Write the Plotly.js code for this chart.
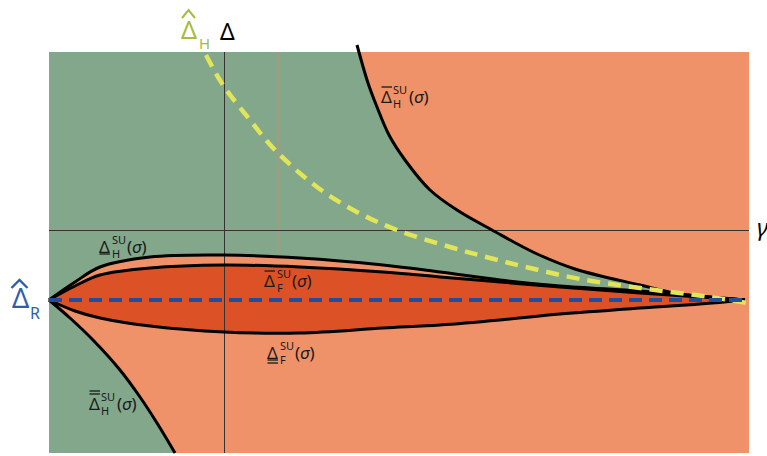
<!DOCTYPE html>
<html><head><meta charset="utf-8">
<script src="https://cdn.plot.ly/plotly-3.0.1.min.js"></script>
<style>html,body{margin:0;padding:0;background:#fff;}#chart{width:767px;height:456px;}</style>
</head><body><div id="chart"></div>
<script>
// ---- data (gamma on x, Delta on y; axes cross at origin) ----
const deltaR = -0.70;                       // Delta-hat_R level
const gammaEnd = 5.21;                      // convergence gamma
const baseX = [-1.75, 5.25];                // Delta-hat_R line extent
// upper-right boundary  Delta-bar_H^SU(sigma)
const hBarX = [1.33,1.44,1.53,1.65,1.81,2.06,2.33,2.68,3.11,3.51,4.16,4.56,4.83,5.21];
const hBarY = [1.85,1.47,1.23,0.95,0.70,0.40,0.20,0.00,-0.23,-0.39,-0.55,-0.64,-0.67,-0.70];
// lower-left boundary  Delta-doublebar_H^SU(sigma)
const hDblX = [-1.75,-1.54,-1.31,-1.04,-0.84,-0.67,-0.49];
const hDblY = [-0.70,-0.88,-1.10,-1.40,-1.67,-1.93,-2.23];
// lens curves
const lensX   = [-1.75,-1.49,-1.24,-0.74,0,0.76,1.59,2.16,2.76,3.36,4.16,4.76,5.21];
const hUndY   = [-0.70,-0.52,-0.37,-0.27,-0.25,-0.28,-0.35,-0.42,-0.50,-0.56,-0.61,-0.66,-0.70];
const fBarY   = [-0.70,-0.56,-0.45,-0.38,-0.35,-0.37,-0.42,-0.47,-0.52,-0.57,-0.63,-0.67,-0.70];
const fUndY   = [-0.70,-0.81,-0.88,-0.96,-1.02,-1.03,-0.98,-0.95,-0.90,-0.84,-0.78,-0.74,-0.70];
// Delta-hat_H dashed curve
const hHatX = [-0.18,-0.01,0.26,0.51,0.93,1.33,1.73,2.26,2.66,3.06,3.56,4.16,4.86,5.23];
const hHatY = [1.75,1.45,1.10,0.80,0.43,0.18,0.00,-0.17,-0.28,-0.38,-0.49,-0.58,-0.67,-0.73];
const markGamma = 0.54;                     // thin marker line position

// ---- styling / geometry ----
const W = 767, H = 456;
const GREEN = '#82A78A', LORANGE = '#EF9269', DORANGE = '#DC5226';
const YG = '#A6BC3A', BLUE = '#2E5DB0';
const plotL = 49, plotR = 749, plotT = 52, plotB = 453, ox = 224, oy = 230, s = 100;
const xr1 = [(plotL-ox)/s, (plotR-ox)/s], yr1 = [(oy-plotB)/s, (oy-plotT)/s];
const xr2 = [(0-ox)/s, (W-ox)/s], yr2 = [(oy-H)/s, (oy-0)/s];
const FAR = 9;
const px = v => v / W, py = v => 1 - v / H;
const dX = v => (v - ox) / s, dY = v => (oy - v) / s;   // pixel -> subplot-2 data

const hid = {mode:'lines', line:{width:0, color:'rgba(0,0,0,0)'}, hoverinfo:'skip', showlegend:false, xaxis:'x', yaxis:'y'};
const fillT = (x, y, c) => ({mode:'lines', x, y, fill:'tonexty', fillcolor:c, line:{width:0, shape:'spline', color:'rgba(0,0,0,0)'}, hoverinfo:'skip', showlegend:false, xaxis:'x', yaxis:'y'});
const blk = (x, y) => ({mode:'lines', x, y, line:{width:3, color:'#000', shape:'spline'}, hoverinfo:'skip', showlegend:false, xaxis:'x2', yaxis:'y2'});

const traces = [
  Object.assign({x:[hBarX[0], FAR, FAR], y:[FAR, FAR, deltaR]}, hid),
  fillT(hBarX, hBarY, LORANGE),
  Object.assign({x:[hDblX[0], FAR, FAR], y:[deltaR, deltaR, -FAR]}, hid),
  fillT(hDblX, hDblY, LORANGE),
  Object.assign({x:[lensX[0], gammaEnd], y:[deltaR, deltaR]}, hid),
  fillT(lensX, hUndY, LORANGE),
  Object.assign({x:lensX, y:fUndY, line:{width:0, shape:'spline', color:'rgba(0,0,0,0)'}}, hid),
  fillT(lensX, fBarY, DORANGE),
  blk(hBarX, hBarY), blk(hDblX, hDblY), blk(lensX, hUndY), blk(lensX, fBarY), blk(lensX, fUndY),
  {mode:'lines', x:hHatX, y:hHatY, line:{width:4.5, color:'#E2E45A', dash:'13px,8px', shape:'spline'}, hoverinfo:'skip', showlegend:false, xaxis:'x2', yaxis:'y2'},
  {mode:'lines', x:baseX, y:[deltaR, deltaR], line:{width:4, color:'#1F4E9E', dash:'13px,7px'}, hoverinfo:'skip', showlegend:false, xaxis:'x2', yaxis:'y2'}
];

const FONT = 'Noto Sans, DejaVu Sans, sans-serif';
const ann = (x, y, text, size, color, xa) => ({xref:'paper', yref:'paper', x:px(x), y:py(y), text, showarrow:false,
  xanchor:xa||'left', yanchor:'middle', borderpad:0, font:{family:FONT, size, color:color||'#1a1a1a'}});
const bar = (x0, x1, y, c, w) => ({type:'line', xref:'x2', yref:'y2', x0:dX(x0), x1:dX(x1), y0:dY(y), y1:dY(y), line:{color:c||'#1a1a1a', width:w||1.3}, layer:'above'});
const caret = (x0, xm, x1, yb, yt, c, w) => ({type:'path', xref:'x2', yref:'y2',
  path:`M${dX(x0)},${dY(yb)} L${dX(xm)},${dY(yt)} L${dX(x1)},${dY(yb)}`, line:{color:c, width:w}, layer:'above'});

const labelAnns = [], labelShapes = [];
// mark: 'o' over, 'oo' double over, 'u' under, 'uu' double under
function label(x, y, mark, sub) {
  labelAnns.push(ann(x, y, 'Δ', 17));
  labelAnns.push(Object.assign(ann(x + 12.5, y + 0.5, 'SU<br>' + sub, 11), {align:'left'}));
  labelAnns.push(ann(x + 27.5, y, '(<i>σ</i>)', 17));
  const a = x + 1.5, b = x + 12;
  if (mark === 'o')  labelShapes.push(bar(a, b, y - 9));
  if (mark === 'oo') labelShapes.push(bar(a, b, y - 9), bar(a, b, y - 12));
  if (mark === 'u')  labelShapes.push(bar(a, b, y + 8));
  if (mark === 'uu') labelShapes.push(bar(a, b, y + 8), bar(a, b, y + 11));
}
label(380, 96, 'o', 'H');
label(98, 246, 'u', 'H');
label(263, 280, 'o', 'F');
label(266, 352, 'uu', 'F');
label(88, 403, 'oo', 'H');

const annotations = [
  ann(189, 29, 'Δ', 25, YG, 'center'),
  ann(204, 43, 'H', 15, YG, 'center'),
  ann(228, 31, 'Δ', 23, '#000', 'center'),
  ann(763, 227, '<i>γ</i>', 24, '#000', 'center'),
  ann(20, 297, 'Δ', 27, BLUE, 'center'),
  ann(35, 313, 'R', 16, BLUE, 'center'),
  ...labelAnns
];

const axHidden = {showgrid:false, zeroline:false, showticklabels:false, ticks:'', fixedrange:true};
const layout = {
  width:W, height:H, margin:{l:0, r:0, t:0, b:0},
  paper_bgcolor:'#fff', plot_bgcolor:'rgba(0,0,0,0)', showlegend:false,
  xaxis: Object.assign({}, axHidden, {range:xr1, domain:[plotL/W, plotR/W], anchor:'free', position:py(oy), showline:true, linecolor:'#333', linewidth:1.2}),
  yaxis: Object.assign({}, axHidden, {range:yr1, domain:[1-plotB/H, 1-plotT/H], anchor:'free', position:px(ox), showline:true, linecolor:'#333', linewidth:1.2}),
  xaxis2: Object.assign({}, axHidden, {range:xr2, domain:[0,1], anchor:'y2', showline:false}),
  yaxis2: Object.assign({}, axHidden, {range:yr2, domain:[0,1], anchor:'x2', showline:false}),
  shapes: [
    {type:'rect', xref:'x domain', yref:'y domain', x0:0, x1:1, y0:0, y1:1, fillcolor:GREEN, line:{width:0}, layer:'below'},
    {type:'line', xref:'x', yref:'y', x0:markGamma, x1:markGamma, y0:yr1[1], y1:-0.24, line:{color:'#C39070', width:1}, layer:'below'},
    caret(182, 188.5, 195, 18, 10, YG, 2),
    caret(11.5, 19.5, 27.5, 288, 280, BLUE, 2.3),
    ...labelShapes
  ],
  annotations
};
Plotly.newPlot('chart', traces, layout, {displayModeBar:false, staticPlot:true});
</script></body></html>
